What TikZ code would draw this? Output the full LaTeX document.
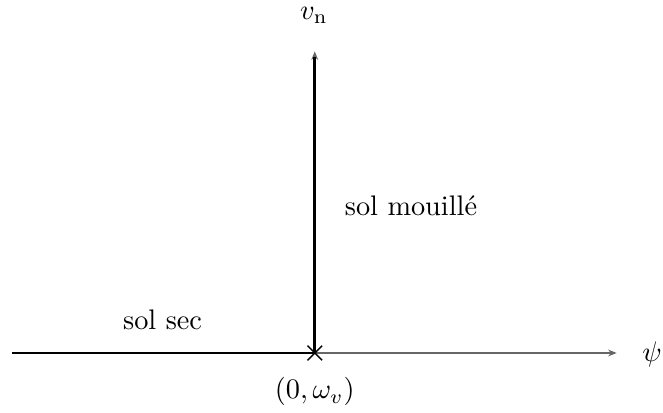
\documentclass[tikz,border=0pt]{standalone}
\usepackage{amsmath}
\usetikzlibrary{arrows.meta, positioning}
\tikzset{
  axis/.style={draw=black!60, -{Stealth[length=3pt, width=2.4pt]}, line width=0.5pt},
  branch/.style={draw=black, line width=1pt}
}

\begin{document}
\begin{tikzpicture}
  \useasboundingbox (0,0) rectangle (8.236,5.118);
  \coordinate (O) at (3.91,0.733);
  \coordinate (xend) at (7.66,0.733);
  \coordinate (yend) at (3.91,4.48);
  \coordinate (left) at (0.149,0.733);
  % axes
  \draw[axis] (O) -- (xend);
  \draw[axis] (O) -- (yend);
  % branches
  \draw[branch] (left) -- (O);
  \draw[branch] (O) -- ([yshift=-2pt]yend);
  \draw[line width=0.5pt] ([shift={(-2.6pt,-2.6pt)}]O) -- ([shift={(2.6pt,2.6pt)}]O);
  \draw[line width=0.5pt] ([shift={(-2.6pt,2.6pt)}]O) -- ([shift={(2.6pt,-2.6pt)}]O);
  % labels
  \node[inner sep=1pt] (vn) at (3.9,4.93) {$v_{\mathrm{n}}$};
  \node (psi) at (8.1,0.72) {$\psi$};
  \node (orig) at (3.91,0.25) {$(0,\omega_v)$};
  \node (wet) at (5.106,2.56) {sol mouill\'e};
  \node (dry) at (2.02,1.15) {sol sec};
\end{tikzpicture}
\end{document}
